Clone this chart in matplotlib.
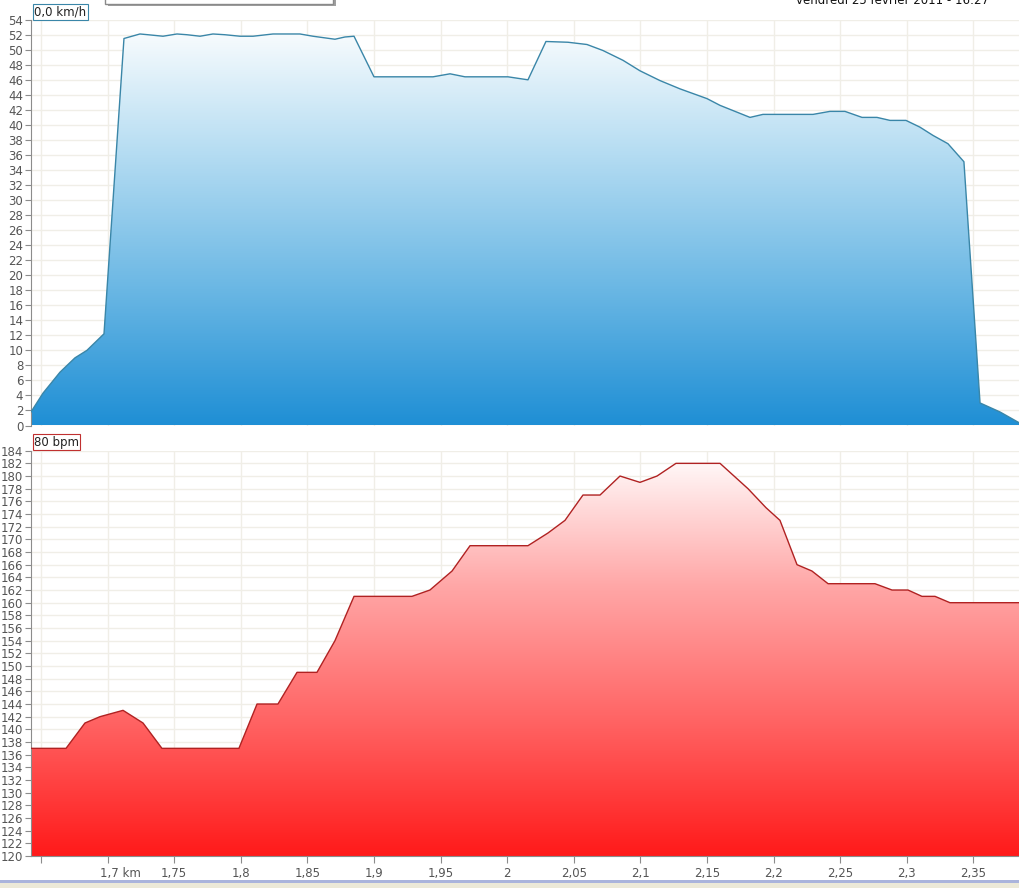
import numpy as np
import matplotlib
matplotlib.use('Agg')
import matplotlib.pyplot as plt
from matplotlib.colors import LinearSegmentedColormap
from matplotlib.patches import Rectangle
from matplotlib.transforms import ScaledTranslation

# speed (km/h) against distance (km)
speed_km = [1.6425, 1.6515, 1.6643, 1.6755, 1.6845, 1.6973, 1.7123, 1.7243, 1.7303,
            1.7416, 1.7521, 1.7596, 1.7694, 1.7791, 1.7881, 1.7994, 1.8092, 1.8242,
            1.8444, 1.8542, 1.8707, 1.8782, 1.8850, 1.9000, 1.9443, 1.9571, 1.9683,
            2.0006, 2.0156, 2.0291, 2.0456, 2.0599, 2.0719, 2.0869, 2.0997, 2.1147,
            2.1297, 2.1500, 2.1598, 2.1823, 2.1920, 2.2296, 2.2423, 2.2536, 2.2664,
            2.2776, 2.2874, 2.2994, 2.3099, 2.3197, 2.3309, 2.3429, 2.3550, 2.3700,
            2.3850]
speed = [1.8, 4.3, 7.1, 9.0, 10.0, 12.2, 51.5, 52.1, 52.0,
         51.8, 52.1, 52.0, 51.8, 52.1, 52.0, 51.8, 51.8, 52.1,
         52.1, 51.8, 51.4, 51.7, 51.8, 46.4, 46.4, 46.8, 46.4,
         46.4, 46.0, 51.1, 51.0, 50.7, 49.9, 48.6, 47.2, 45.9,
         44.8, 43.5, 42.6, 41.0, 41.4, 41.4, 41.8, 41.8, 41.0,
         41.0, 40.6, 40.6, 39.7, 38.6, 37.5, 35.1, 3.0, 1.8,
         0.3]

# heart rate (bpm) against distance (km)
hr_km = [1.6425, 1.6688, 1.6830, 1.6943, 1.7116, 1.7266, 1.7408, 1.7986, 1.8122,
         1.8279, 1.8422, 1.8572, 1.8707, 1.8850, 1.9285, 1.9420, 1.9586, 1.9721,
         2.0156, 2.0306, 2.0434, 2.0569, 2.0697, 2.0847, 2.0997, 2.1125, 2.1267,
         2.1598, 2.1808, 2.1943, 2.2048, 2.2176, 2.2288, 2.2409, 2.2761, 2.2889,
         2.3009, 2.3114, 2.3212, 2.3324, 2.3850]
hr = [137, 137, 141, 142, 143, 141, 137, 137, 144,
      144, 149, 149, 154, 161, 161, 162, 165, 169,
      169, 171, 173, 177, 177, 180, 179, 180, 182,
      182, 178, 175, 173, 166, 165, 163, 163, 162,
      162, 161, 161, 160, 160]

x_ticks = [1.65, 1.7, 1.75, 1.8, 1.85, 1.9, 1.95, 2.0, 2.05, 2.1, 2.15, 2.2, 2.25, 2.3, 2.35]
x_labels = ['', '1,7 km', '1,75', '1,8', '1,85', '1,9', '1,95', '2', '2,05', '2,1',
            '2,15', '2,2', '2,25', '2,3', '2,35']

XMIN, XMAX = 1.6425, 2.385
GRID = '#f0eee7'
AXIS = '#8c8c8c'
TXT = '#555555'

plt.rcParams['font.family'] = ['DejaVu Sans']

fig = plt.figure(figsize=(10.2, 8.88), dpi=100)
W, H = 1020, 888


def px_axes(left, top, right, bottom):
    return fig.add_axes([left / W, 1 - bottom / H, (right - left) / W, (bottom - top) / H])


def style_axes(ax, ymin, ymax):
    ax.set_xlim(XMIN, XMAX)
    ax.set_ylim(ymin, ymax)
    ax.set_yticks(np.arange(ymin, ymax + 1, 2))
    ax.set_xticks(x_ticks)
    for s in ['top', 'right']:
        ax.spines[s].set_visible(False)
    ax.spines['left'].set_color(AXIS)
    ax.spines['bottom'].set_color(AXIS)
    ax.tick_params(axis='y', direction='out', length=4, color=AXIS, labelcolor=TXT,
                   labelsize=8.5, pad=1.5)
    ax.grid(True, color=GRID, linewidth=1)
    ax.set_axisbelow(True)


def gradient_fill(ax, xs, ys, ymin, ymax, cmap, edge):
    poly = ax.fill_between(xs, ys, ymin, color='none', linewidth=0)
    grad = np.linspace(0, 1, 256).reshape(-1, 1)
    im = ax.imshow(grad, cmap=cmap, aspect='auto', extent=[XMIN, XMAX, ymin, ymax],
                   origin='lower', zorder=2)
    im.set_clip_path(poly.get_paths()[0], transform=ax.transData)
    ax.plot(xs, ys, color=edge, linewidth=1, zorder=3)


blue = LinearSegmentedColormap.from_list('b', ['#1f8fd5', '#6ab7e4', '#b4dcf2', '#ffffff'])
red = LinearSegmentedColormap.from_list('r', ['#ff1a1a', '#ff6464', '#ffa7a7', '#ffffff'])

# speed panel
ax1 = px_axes(31, 19.7, 1020, 425.5)
style_axes(ax1, 0, 54)
ax1.spines['bottom'].set_visible(False)
ax1.tick_params(axis='x', length=0, labelbottom=False)
gradient_fill(ax1, speed_km, speed, 0, 54, blue, '#3a86a8')
ax1.text(0.003, 1.003, '0,0 km/h', transform=ax1.transAxes, fontsize=8.5, color='#222222',
         va='bottom', ha='left',
         bbox=dict(boxstyle='square,pad=0.12', fc='white', ec='#3a86a8', lw=0.8))

# heart rate panel
ax2 = px_axes(31, 450.7, 1020, 856)
style_axes(ax2, 120, 184)
ax2.tick_params(axis='x', direction='out', length=5, color=AXIS, labelcolor=TXT,
                labelsize=8.5, pad=3)
ax2.set_xticklabels(x_labels)
gradient_fill(ax2, hr_km, hr, 120, 184, red, '#b02222')
ax2.text(0.003, 1.005, '80 bpm', transform=ax2.transAxes, fontsize=8.5, color='#222222',
         va='bottom', ha='left',
         bbox=dict(boxstyle='square,pad=0.12', fc='white', ec='#c03030', lw=0.8))

# nudge the "1,7 km" label so that the number sits on its tick
lbl = ax2.get_xticklabels()[1]
lbl.set_horizontalalignment('left')
lbl.set_transform(lbl.get_transform() + ScaledTranslation(-8 / 100, 0, fig.dpi_scale_trans))

# date line, cut by the top of the window as in the screenshot
fig.text(0.97, 1.0, 'vendredi 25 février 2011 - 16:27', fontsize=8.5, color='#111111',
         ha='right', va='center')

# window furniture: popup above the chart, status bar below
fig.patches.append(Rectangle((108 / W, 1 - 6 / H), 228 / W, 8 / H, transform=fig.transFigure,
                             fc='#a0a0a0', ec='none', zorder=5))
fig.patches.append(Rectangle((105 / W, 1 - 4 / H), 228 / W, 8 / H, transform=fig.transFigure,
                             fc='white', ec='#8a8a8a', lw=1, zorder=6))
fig.patches.append(Rectangle((0, 0), 1, 6 / H, transform=fig.transFigure,
                             fc='#ece9d8', ec='none'))
fig.patches.append(Rectangle((0, 5 / H), 1, 3 / H, transform=fig.transFigure,
                             fc='#aab4dc', ec='none'))

fig.savefig('out.png', dpi=100)
